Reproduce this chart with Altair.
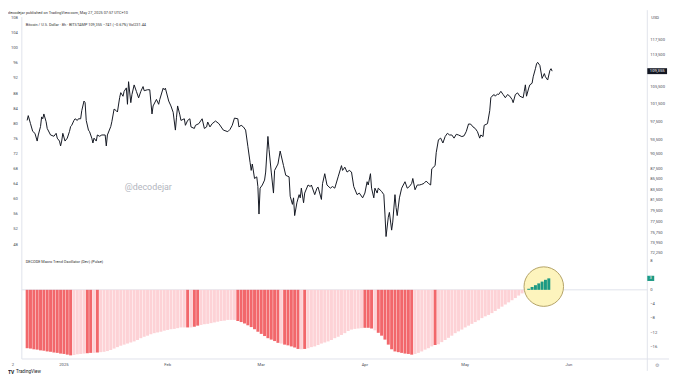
import altair as alt
import pandas as pd

# ---------------- data ----------------
price_time = [
    "2024-12-21T00:00", "2024-12-21T08:00", "2024-12-22T00:00", "2024-12-22T16:00", "2024-12-23T08:00",
    "2024-12-24T00:00", "2024-12-24T08:00", "2024-12-25T00:00", "2024-12-25T08:00", "2024-12-25T16:00",
    "2024-12-26T00:00", "2024-12-26T16:00", "2024-12-27T00:00", "2024-12-28T00:00", "2024-12-29T00:00",
    "2024-12-29T16:00", "2024-12-30T00:00", "2024-12-30T16:00", "2024-12-31T00:00", "2024-12-31T08:00",
    "2024-12-31T16:00", "2025-01-01T08:00", "2025-01-02T00:00", "2025-01-02T16:00", "2025-01-03T00:00",
    "2025-01-03T08:00", "2025-01-04T00:00", "2025-01-04T08:00", "2025-01-05T00:00", "2025-01-05T08:00",
    "2025-01-06T00:00", "2025-01-06T08:00", "2025-01-07T00:00", "2025-01-07T08:00", "2025-01-07T16:00",
    "2025-01-08T08:00", "2025-01-08T16:00", "2025-01-09T08:00", "2025-01-09T16:00", "2025-01-10T00:00",
    "2025-01-10T16:00", "2025-01-11T00:00", "2025-01-11T16:00", "2025-01-12T08:00", "2025-01-13T08:00",
    "2025-01-13T16:00", "2025-01-14T00:00", "2025-01-15T00:00", "2025-01-15T08:00", "2025-01-16T00:00",
    "2025-01-16T16:00", "2025-01-17T00:00", "2025-01-17T16:00", "2025-01-18T00:00", "2025-01-18T16:00",
    "2025-01-19T00:00", "2025-01-19T16:00", "2025-01-20T00:00", "2025-01-20T08:00", "2025-01-21T00:00",
    "2025-01-21T08:00", "2025-01-22T00:00", "2025-01-22T16:00", "2025-01-23T08:00", "2025-01-24T00:00",
    "2025-01-24T16:00", "2025-01-25T00:00", "2025-01-26T00:00", "2025-01-26T16:00", "2025-01-27T08:00",
    "2025-01-27T16:00", "2025-01-28T16:00", "2025-01-29T08:00", "2025-01-29T16:00", "2025-01-30T16:00",
    "2025-01-31T00:00", "2025-01-31T08:00", "2025-02-01T08:00", "2025-02-02T00:00", "2025-02-02T16:00",
    "2025-02-03T08:00", "2025-02-03T16:00", "2025-02-04T00:00", "2025-02-04T16:00", "2025-02-05T00:00",
    "2025-02-06T00:00", "2025-02-06T08:00", "2025-02-07T00:00", "2025-02-07T16:00", "2025-02-08T00:00",
    "2025-02-09T00:00", "2025-02-09T08:00", "2025-02-10T08:00", "2025-02-11T08:00", "2025-02-12T00:00",
    "2025-02-12T16:00", "2025-02-13T00:00", "2025-02-13T16:00", "2025-02-14T08:00", "2025-02-15T08:00",
    "2025-02-16T08:00", "2025-02-17T16:00", "2025-02-19T00:00", "2025-02-19T16:00", "2025-02-20T08:00",
    "2025-02-21T00:00", "2025-02-22T00:00", "2025-02-22T08:00", "2025-02-23T00:00", "2025-02-23T16:00",
    "2025-02-24T08:00", "2025-02-25T00:00", "2025-02-25T16:00", "2025-02-26T00:00", "2025-02-26T08:00",
    "2025-02-27T00:00", "2025-02-27T16:00", "2025-02-28T00:00", "2025-02-28T08:00", "2025-02-28T16:00",
    "2025-03-01T08:00", "2025-03-02T00:00", "2025-03-02T08:00", "2025-03-03T00:00", "2025-03-03T08:00",
    "2025-03-04T00:00", "2025-03-04T16:00", "2025-03-05T00:00", "2025-03-06T00:00", "2025-03-06T16:00",
    "2025-03-07T00:00", "2025-03-07T16:00", "2025-03-08T08:00", "2025-03-09T08:00", "2025-03-09T16:00",
    "2025-03-10T08:00", "2025-03-10T16:00", "2025-03-11T00:00", "2025-03-11T16:00", "2025-03-12T08:00",
    "2025-03-12T16:00", "2025-03-13T00:00", "2025-03-13T16:00", "2025-03-14T00:00", "2025-03-15T00:00",
    "2025-03-15T16:00", "2025-03-16T00:00", "2025-03-17T00:00", "2025-03-17T16:00", "2025-03-18T00:00",
    "2025-03-19T00:00", "2025-03-19T08:00", "2025-03-20T00:00", "2025-03-20T16:00", "2025-03-21T16:00",
    "2025-03-22T08:00", "2025-03-23T00:00", "2025-03-24T00:00", "2025-03-25T00:00", "2025-03-25T08:00",
    "2025-03-26T00:00", "2025-03-26T16:00", "2025-03-27T08:00", "2025-03-28T00:00", "2025-03-28T16:00",
    "2025-03-29T16:00", "2025-03-30T08:00", "2025-03-31T08:00", "2025-04-01T00:00", "2025-04-01T16:00",
    "2025-04-02T00:00", "2025-04-02T16:00", "2025-04-03T00:00", "2025-04-03T16:00", "2025-04-04T00:00",
    "2025-04-04T16:00", "2025-04-05T00:00", "2025-04-06T00:00", "2025-04-06T16:00", "2025-04-07T00:00",
    "2025-04-07T08:00", "2025-04-08T00:00", "2025-04-08T08:00", "2025-04-09T00:00", "2025-04-09T08:00",
    "2025-04-10T00:00", "2025-04-10T08:00", "2025-04-10T16:00", "2025-04-11T08:00", "2025-04-12T00:00",
    "2025-04-13T00:00", "2025-04-13T16:00", "2025-04-14T08:00", "2025-04-15T00:00", "2025-04-15T08:00",
    "2025-04-16T00:00", "2025-04-16T16:00", "2025-04-17T08:00", "2025-04-18T00:00", "2025-04-18T16:00",
    "2025-04-19T08:00", "2025-04-20T00:00", "2025-04-20T16:00", "2025-04-21T00:00", "2025-04-22T00:00",
    "2025-04-22T08:00", "2025-04-23T00:00", "2025-04-23T16:00", "2025-04-24T08:00", "2025-04-25T00:00",
    "2025-04-25T16:00", "2025-04-26T08:00", "2025-04-27T00:00", "2025-04-27T16:00", "2025-04-28T08:00",
    "2025-04-29T00:00", "2025-04-30T00:00", "2025-04-30T16:00", "2025-05-01T08:00", "2025-05-02T00:00",
    "2025-05-02T16:00", "2025-05-03T08:00", "2025-05-04T00:00", "2025-05-04T16:00", "2025-05-05T08:00",
    "2025-05-05T16:00", "2025-05-06T08:00", "2025-05-06T16:00", "2025-05-07T16:00", "2025-05-08T08:00",
    "2025-05-08T16:00", "2025-05-09T00:00", "2025-05-09T16:00", "2025-05-10T00:00", "2025-05-10T16:00",
    "2025-05-11T00:00", "2025-05-11T16:00", "2025-05-12T08:00", "2025-05-13T00:00", "2025-05-13T16:00",
    "2025-05-14T08:00", "2025-05-15T00:00", "2025-05-15T08:00", "2025-05-16T00:00", "2025-05-16T16:00",
    "2025-05-17T08:00", "2025-05-18T08:00", "2025-05-18T16:00", "2025-05-19T00:00", "2025-05-19T08:00",
    "2025-05-20T00:00", "2025-05-20T08:00", "2025-05-21T00:00", "2025-05-21T08:00", "2025-05-22T00:00",
    "2025-05-22T08:00", "2025-05-22T16:00", "2025-05-23T08:00", "2025-05-23T16:00", "2025-05-24T00:00",
    "2025-05-24T16:00", "2025-05-25T00:00", "2025-05-25T16:00", "2025-05-26T08:00", "2025-05-26T16:00",
    "2025-05-27T00:00",
]
price_close = [
    97760, 98830, 97045, 95354, 94931, 93277, 94575, 96396, 98543, 98127,
    99206, 97478, 95989, 94575, 94296, 94931, 93898, 93277, 92242, 93277,
    94931, 93277, 93898, 95354, 96396, 96681, 97760, 98127, 97760, 98127,
    98127, 99940, 102165, 101796, 97760, 95633, 95288, 93898, 92863, 93898,
    93277, 94575, 94296, 94575, 94575, 92242, 94575, 96396, 97478, 100312,
    99940, 99648, 102998, 104135, 103284, 104440, 105273, 101415, 106766, 101796,
    103673, 105982, 104440, 102906, 104440, 105585, 104598, 104829, 104829, 99206,
    101035, 102546, 101415, 102546, 105198, 104829, 105198, 102165, 101035, 99578,
    95633, 98478, 101035, 99000, 97760, 98127, 96681, 97760, 98127, 96327,
    95989, 96681, 97045, 98127, 95989, 96327, 97409, 96327, 97045, 97625,
    97045, 95633, 95288, 95778, 96681, 98274, 98127, 96327, 96681, 96327,
    95633, 92176, 88861, 87252, 88528, 85662, 85980, 84108, 79007, 83796,
    84404, 85351, 86926, 94260, 91512, 86926, 82868, 87252, 88528, 91180,
    90168, 88204, 86283, 85980, 82276, 80767, 81970, 78730, 81064, 82565,
    81970, 83796, 81064, 82868, 84404, 84108, 84404, 82565, 83796, 84000,
    81674, 84653, 86600, 84404, 83796, 84108, 83796, 85980, 88204, 87252,
    87895, 86926, 87252, 86926, 84108, 82565, 82868, 81970, 82868, 85033,
    84404, 86600, 83796, 81970, 83796, 82868, 83796, 83180, 82565, 79007,
    75059, 78439, 79298, 76166, 77571, 82565, 80185, 78730, 81970, 83796,
    85033, 83796, 84108, 84714, 85662, 83492, 84404, 84404, 84524, 84714,
    85162, 84714, 84404, 87569, 88204, 90840, 93550, 93898, 92863, 94229,
    94931, 94575, 94575, 93898, 94720, 94575, 94229, 94400, 95354, 96976,
    96930, 96327, 95989, 95288, 93898, 94575, 94229, 96681, 97045, 99940,
    102940, 103300, 103690, 103300, 103831, 103690, 104450, 103690, 102940, 103690,
    103300, 102550, 101796, 103690, 104080, 103300, 102940, 104450, 106000, 103300,
    105230, 106000, 106390, 107950, 109970, 111170, 111580, 110770, 109143, 107570,
    108760, 107950, 107170, 109560, 109970, 109355,
]

# daily oscillator, first bar 2024-12-21
osc_first_day = "2024-12-21"
osc_value = [
    -16.3, -16.4, -16.6, -16.7, -16.9, -17.0, -17.2, -17.3, -17.5, -17.6, -17.8,
    -17.9, -18.1, -18.3, -18.2, -18.0, -17.9, -17.8, -17.7, -17.6, -17.6,
    -17.5, -17.4, -17.3, -17.1, -16.8, -16.4, -16.0, -15.6, -15.3, -15.0,
    -14.7, -14.4, -14.0, -13.5, -13.1, -12.8, -12.4, -12.1, -11.9, -11.7,
    -11.4, -11.2, -11.0, -10.9, -10.7, -10.5, -10.5, -10.5, -10.5, -10.3,
    -10.0, -9.8, -9.6, -9.5, -9.3, -9.1, -8.9, -8.7, -8.6, -8.4,
    -8.4, -8.4, -8.7, -9.0, -9.4, -9.9, -10.4, -11.0, -11.7, -12.3,
    -12.9, -13.5, -13.9, -14.3, -14.8, -15.0, -15.3, -15.5, -15.8, -16.1,
    -16.5, -16.6, -16.5, -16.3, -16.0, -15.8, -15.4, -15.0, -14.7, -14.4,
    -14.0, -13.5, -13.1, -12.6, -12.1, -11.5, -11.1, -10.9, -10.8, -10.7,
    -10.6, -10.6, -10.8, -11.3, -12.0, -12.8, -13.9, -15.3, -16.6, -17.2,
    -17.4, -17.6, -17.8, -17.9, -18.1, -17.9, -17.6, -17.2, -16.7, -16.3,
    -15.8, -15.4, -15.2, -14.6, -14.0, -13.4, -12.8, -12.1, -11.6, -11.1,
    -10.5, -10.0, -9.5, -9.0, -8.5, -7.9, -7.4, -7.0, -6.5, -5.9,
    -5.3, -4.7, -4.1, -3.5, -2.9, -2.3, -1.6, -1.0, -0.5, 0.3,
    0.8, 1.3, 1.8, 2.3, 2.8, 3.2,
]
# days drawn in the strong (dark) red colour
osc_strong_spans = [
    ("2024-12-21", "2025-01-03"), ("2025-01-08", "2025-01-09"), ("2025-01-11", "2025-01-11"),
    ("2025-02-07", "2025-02-07"), ("2025-02-09", "2025-02-10"), ("2025-02-22", "2025-03-06"),
    ("2025-03-08", "2025-03-12"), ("2025-03-14", "2025-03-14"), ("2025-04-01", "2025-04-03"),
    ("2025-04-05", "2025-04-15"), ("2025-04-22", "2025-04-22"),
]
highlight_time = ["2025-05-24T12:00"]
highlight_level = [0.9]

left_ticks = [108, 104, 100, 96, 92, 88, 84, 80, 76, 72, 68, 64, 60, 56, 52, 48]
price_ticks = [117500, 113500, 105500, 101500, 97500, 93500, 90500, 87500,
               85500, 83500, 81500, 79500, 77500, 75750, 73950, 72250]
last_price = 109355
osc_ticks = [8, 0, -4, -8, -12, -16]
osc_last_label = "3"
month_starts = ["2025-01-01T00:00", "2025-02-01T00:00", "2025-03-01T00:00",
                "2025-04-01T00:00", "2025-05-01T00:00", "2025-06-01T00:00"]
month_labels = ["2025", "Feb", "Mar", "Apr", "May", "Jun"]

header_text = "decodejar published on TradingView.com, May 27, 2025 07:57 UTC+10"
symbol_text = "Bitcoin / U.S. Dollar · 8h · BITSTAMP   109,355   −741 (−0.67%)   Vol231.44"
osc_title = "DECODE Macro Trend Oscillator (Dev) (Pulse)"

# ---------------- frames ----------------
price_df = pd.DataFrame({"t": price_time, "p": price_close})

days = pd.date_range(osc_first_day, periods=len(osc_value), freq="D")
strong = set()
for a, b in osc_strong_spans:
    for d in pd.date_range(a, b, freq="D"):
        strong.add(d)
states = []
for d, v in zip(days, osc_value):
    if v > 0:
        states.append("green")
    elif d in strong:
        states.append("dark")
    else:
        states.append("light")
osc_df = pd.DataFrame({"t": [d.strftime("%Y-%m-%dT%H:%M") for d in days],
                       "v": osc_value, "base": 0.0, "state": states})
red_df = osc_df[osc_df.state != "green"]
green_df = osc_df[osc_df.state == "green"]

left_df = pd.DataFrame({"v": left_ticks, "lab": [str(v) for v in left_ticks]})
pt_df = pd.DataFrame({"p": price_ticks, "lab": [f"{p:,}" for p in price_ticks]})
last_df = pd.DataFrame({"p": [last_price], "lab": [f"{last_price:,}"]})
ot_df = pd.DataFrame({"v": osc_ticks, "lab": [str(v).replace("-", "\u2212") for v in osc_ticks]})
olast_df = pd.DataFrame({"v": [osc_value[-1]], "lab": [osc_last_label]})
month_df = pd.DataFrame({"t": month_starts, "lab": month_labels})
hl_df = pd.DataFrame({"t": highlight_time, "v": highlight_level})
zero_df = pd.DataFrame({"v": [0.0]})
one = pd.DataFrame({"a": [0]})

# ---------------- scales / layout ----------------
W, H, MAIN_H = 633, 346, 242
FONT = "Roboto"
TXT = "#4a4d57"
GRID = "#e0e3eb"

x_scale = alt.Scale(domain=[alt.DateTime(year=2024, month=12, date=20, hours=21, minutes=20),
                            alt.DateTime(year=2025, month=6, date=22, hours=23, minutes=30)])
price_scale = alt.Scale(type="log", domain=[71774, 123663], range=[MAIN_H, 0])
osc_scale = alt.Scale(domain=[-19.31, 9.38], range=[H, MAIN_H])
left_scale = alt.Scale(domain=[44.92, 108.26], range=[MAIN_H, 0])

XT = alt.X("t:T", scale=x_scale, axis=None)

def txt(df, text=None, **kw):
    args = dict(font=FONT, baseline="middle", color=TXT, fontSize=4.2)
    args.update(kw)
    if text is not None:
        args["text"] = text
    return alt.Chart(df).mark_text(**args)

layers = []
# frame lines
layers.append(alt.Chart(one).mark_rule(color=GRID, strokeWidth=1).encode(
    x=alt.value(0), y=alt.value(0), y2=alt.value(H)))
layers.append(alt.Chart(one).mark_rule(color=GRID, strokeWidth=1).encode(
    x=alt.value(W), y=alt.value(-7), y2=alt.value(358)))
layers.append(alt.Chart(one).mark_rule(color=GRID, strokeWidth=1).encode(
    x=alt.value(0), x2=alt.value(W + 22), y=alt.value(H)))
layers.append(alt.Chart(zero_df).mark_rule(color=GRID, strokeWidth=1).encode(
    x=alt.value(0), x2=alt.value(W),
    y=alt.Y("v:Q", scale=osc_scale, axis=None)))

# oscillator bars
layers.append(alt.Chart(red_df).mark_bar(width=3.0).encode(
    x=XT,
    y=alt.Y("v:Q", scale=osc_scale, axis=None),
    y2="base:Q",
    color=alt.Color("state:N", scale=alt.Scale(domain=["dark", "light"],
                                               range=["#f2676b", "#fdd2d6"]), legend=None)))
layers.append(alt.Chart(hl_df).mark_point(shape="circle", size=1600, filled=True,
                                          fill="#fdf4bd", stroke="#b3a266", strokeWidth=1,
                                          fillOpacity=1, strokeOpacity=1).encode(
    x=XT, y=alt.Y("v:Q", scale=osc_scale, axis=None)))
layers.append(alt.Chart(green_df).mark_bar(width=3.0, color="#1c9a84").encode(
    x=XT, y=alt.Y("v:Q", scale=osc_scale, axis=None), y2="base:Q"))

# price line
layers.append(alt.Chart(price_df).mark_line(color="#131722", strokeWidth=1.0).encode(
    x=XT, y=alt.Y("p:Q", scale=price_scale, axis=None)))

# texts
layers.append(txt(one, header_text, align="left", color="#333333", fontSize=3.9).encode(
    x=alt.value(-14), y=alt.value(-4)))
layers.append(txt(one, symbol_text, align="left", color="#333333", fontSize=3.9).encode(
    x=alt.value(4), y=alt.value(8)))
layers.append(txt(one, "@decodejar", align="center", color="#b2b5be", fontSize=9).encode(
    x=alt.value(128), y=alt.value(171.5)))
layers.append(txt(one, osc_title, align="left", color="#333333", fontSize=3.9).encode(
    x=alt.value(4), y=alt.value(248)))
layers.append(txt(left_df, align="right").encode(
    x=alt.value(-4), y=alt.Y("v:Q", scale=left_scale, axis=None), text="lab:N"))
layers.append(txt(pt_df, align="left").encode(
    x=alt.value(636), y=alt.Y("p:Q", scale=price_scale, axis=None), text="lab:N"))
layers.append(txt(one, "USD", align="left").encode(x=alt.value(637), y=alt.value(1)))
layers.append(alt.Chart(last_df).mark_point(
    shape="M-1,-0.3L1,-0.3L1,0.3L-1,0.3Z", size=400, filled=True, fill="#131722",
    fillOpacity=1, strokeWidth=0).encode(
    x=alt.value(643), y=alt.Y("p:Q", scale=price_scale, axis=None)))
layers.append(txt(last_df, align="center", color="#ffffff").encode(
    x=alt.value(643), y=alt.Y("p:Q", scale=price_scale, axis=None), text="lab:N"))
layers.append(txt(ot_df, align="left").encode(
    x=alt.value(636), y=alt.Y("v:Q", scale=osc_scale, axis=None), text="lab:N"))
layers.append(alt.Chart(olast_df).mark_point(
    shape="M-1,-0.75L1,-0.75L1,0.75L-1,0.75Z", size=49, filled=True, fill="#1c9a84",
    fillOpacity=1, strokeWidth=0).encode(
    x=alt.value(636.5), y=alt.Y("v:Q", scale=osc_scale, axis=None)))
layers.append(txt(olast_df, align="center", color="#ffffff").encode(
    x=alt.value(636.5), y=alt.Y("v:Q", scale=osc_scale, axis=None), text="lab:N"))
layers.append(txt(month_df, align="center").encode(x=XT, y=alt.value(352), text="lab:N"))
layers.append(txt(one, "2", align="center").encode(x=alt.value(-9), y=alt.value(352)))
layers.append(txt(one, "⚙", align="center", color="#9598a1", fontSize=5).encode(
    x=alt.value(643), y=alt.value(352)))
layers.append(txt(one, "TV", align="left", color="#131722", fontSize=5, fontWeight="bold").encode(
    x=alt.value(-14), y=alt.value(359)))
layers.append(txt(one, "TradingView", align="left", color="#131722", fontSize=4.6).encode(
    x=alt.value(-6), y=alt.value(359)))

chart = alt.layer(*layers).resolve_scale(y="independent").properties(
    width=W, height=H,
    padding={"left": 14, "top": 7, "right": 25, "bottom": 16},
    autosize=alt.AutoSizeParams(type="none"),
    background="#ffffff",
).configure_view(stroke=None)

chart.save("out.html", embed_options={"renderer": "svg", "actions": False})
